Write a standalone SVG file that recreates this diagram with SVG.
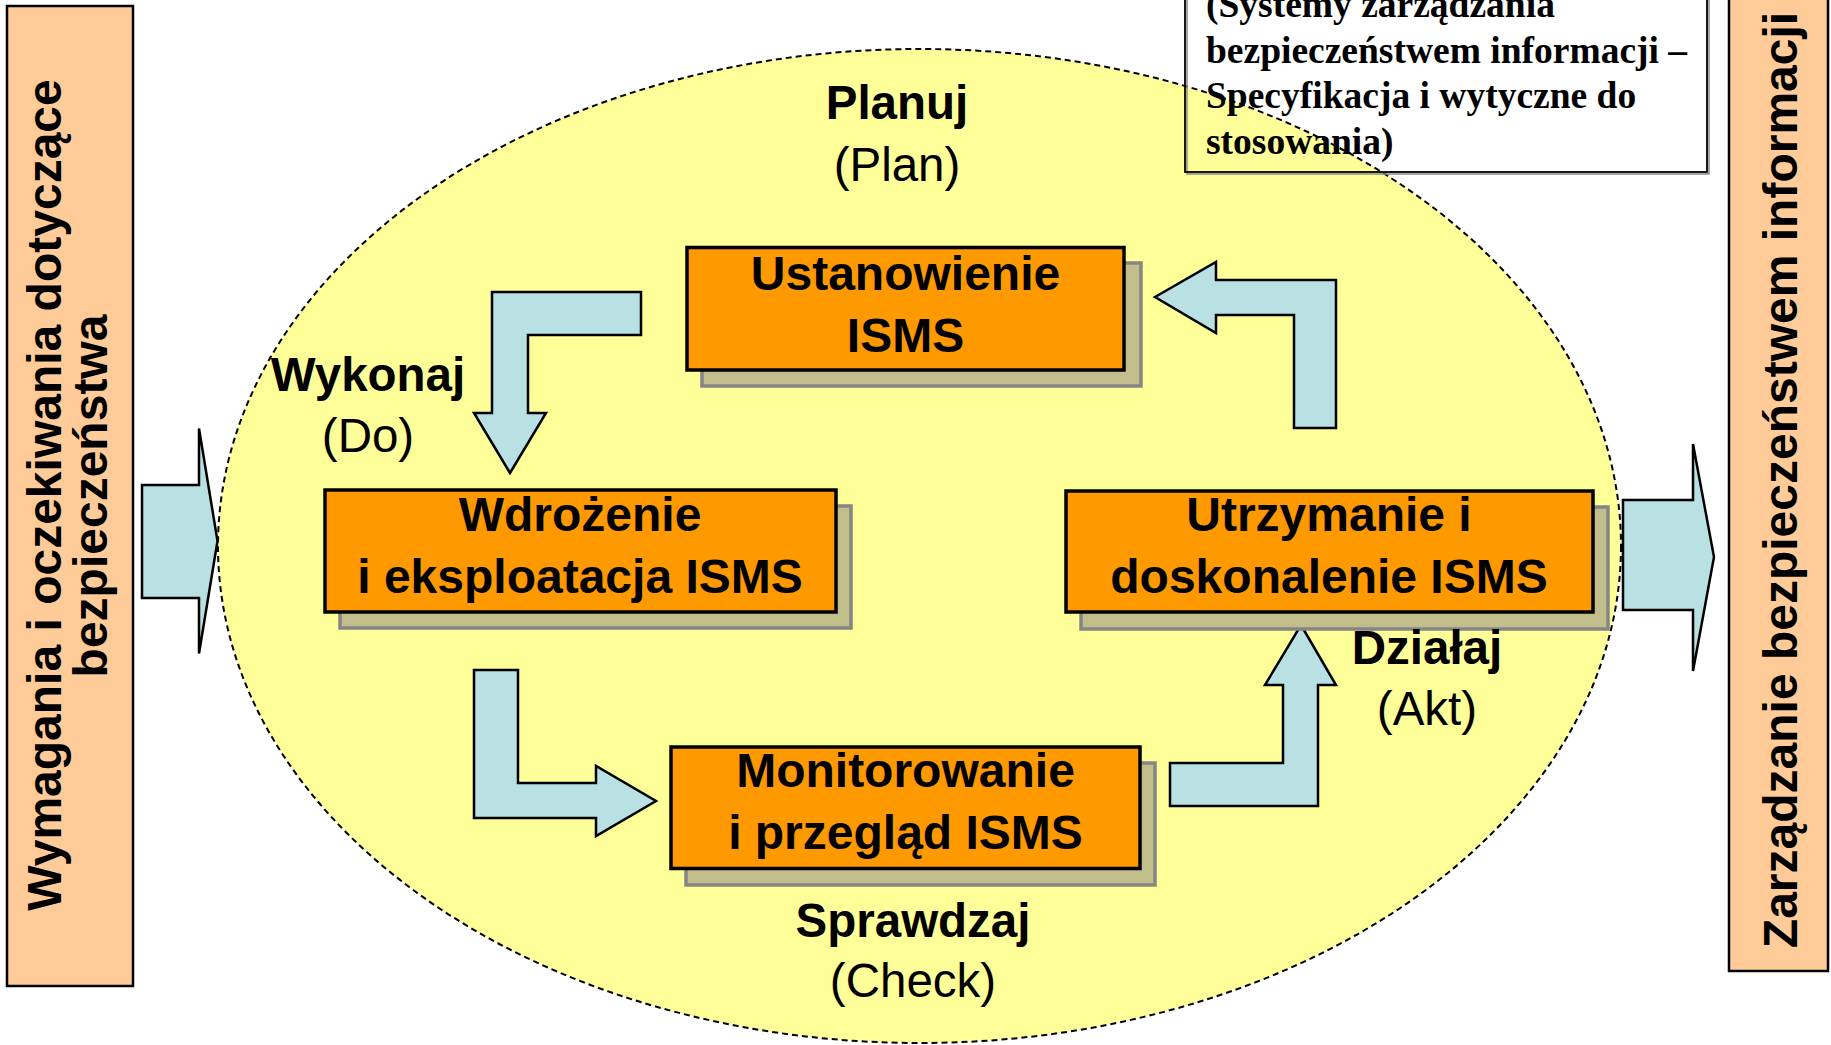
<svg xmlns="http://www.w3.org/2000/svg" width="1831" height="1045" viewBox="0 0 1831 1045">
<style>
.sans{font-family:"Liberation Sans",Arial,sans-serif;}
.b{font-weight:bold;}
.box{fill:#FF9900;stroke:#000;stroke-width:3.5;}
.shadow{fill:#C1BE8B;stroke:#858585;stroke-width:3.5;}
.arrow{fill:#B9E0E3;stroke:#000;stroke-width:2.5;stroke-linejoin:miter;}
.side{fill:#FFCC99;stroke:#000;stroke-width:2.5;}
.lbl{font-size:47.5px;text-anchor:middle;fill:#000;}
.bt{font-size:48px;text-anchor:middle;fill:#000;}
.side-t{font-size:48px;text-anchor:middle;fill:#000;}
.note{font-family:"Liberation Serif","Times New Roman",serif;font-weight:bold;font-size:37.5px;fill:#000;}
</style>
<rect width="1831" height="1045" fill="#fff"/>

<g id="cycle-ellipse">
<ellipse cx="919.5" cy="546" rx="701.5" ry="497" fill="#FFFF99" stroke="#000" stroke-width="2" stroke-dasharray="6 4"/>
</g>

<g id="note">
<rect x="1187" y="-4" width="522" height="178" fill="none" stroke="#8a8a8a" stroke-width="1.5"/>
<rect x="1185" y="-6" width="522" height="178" fill="none" stroke="#000" stroke-width="1.8"/>
<text class="note" x="1206" y="17">(Systemy zarządzania</text>
<text class="note" x="1206" y="62.5">bezpieczeństwem informacji –</text>
<text class="note" x="1206" y="108">Specyfikacja i wytyczne do</text>
<text class="note" x="1206" y="153.5">stosowania)</text>
</g>

<g id="input-box">
<rect class="side" x="7" y="6" width="126" height="980"/>
<g class="sans b side-t">
<text transform="translate(61,495) rotate(-90)">Wymagania i oczekiwania dotyczące</text>
<text transform="translate(107,496) rotate(-90)">bezpieczeństwa</text>
</g>
</g>

<g id="output-box">
<rect class="side" x="1729" y="-4" width="99" height="975"/>
<text class="sans b side-t" transform="translate(1797,480) rotate(-90)">Zarządzanie bezpieczeństwem informacji</text>
</g>

<g id="connectors">
<polygon class="arrow" points="142,485 199,485 199,428.5 217.5,541 199,653.5 199,598 142,598"/>
<polygon class="arrow" points="1623,500 1693,500 1693,444 1714,557 1693,671 1693,610 1623,610"/>
<polygon class="arrow" points="492,292 641,292 641,335 528,335 528,413 546,413 510,473 474,413 492,413"/>
<polygon class="arrow" points="474,670 518,670 518,783 596,783 596,766 656,801 596,836 596,818 474,818"/>
<polygon class="arrow" points="1301,625 1336,685 1318,685 1318,806 1170,806 1170,763 1283,763 1283,685 1265,685"/>
<polygon class="arrow" points="1155,297 1216,262 1216,280 1336,280 1336,428 1294,428 1294,315 1216,315 1216,333"/>
</g>

<g id="plan">
<rect class="shadow" x="702" y="263" width="439" height="123"/>
<rect class="box" x="687" y="247.5" width="437" height="122.5"/>
<text class="sans b bt" x="905.5" y="290">Ustanowienie</text>
<text class="sans b bt" x="905.5" y="352">ISMS</text>
</g>

<g id="do">
<rect class="shadow" x="340" y="506" width="511" height="122"/>
<rect class="box" x="325" y="490" width="511" height="122"/>
<text class="sans b bt" x="580" y="531">Wdrożenie</text>
<text class="sans b bt" x="580" y="593">i eksploatacja ISMS</text>
</g>

<g id="check">
<rect class="shadow" x="686" y="763" width="469" height="122"/>
<rect class="box" x="671" y="747" width="469" height="121.5"/>
<text class="sans b bt" x="905.5" y="787">Monitorowanie</text>
<text class="sans b bt" x="905.5" y="848.5">i przegląd ISMS</text>
</g>

<g id="act">
<rect class="shadow" x="1081" y="507" width="527" height="122"/>
<rect class="box" x="1066" y="491" width="527" height="121"/>
<text class="sans b bt" x="1329" y="531">Utrzymanie i</text>
<text class="sans b bt" x="1329" y="593">doskonalenie ISMS</text>
</g>

<g id="phase-labels" class="sans">
<text class="b lbl" x="897" y="119">Planuj</text>
<text class="lbl" x="897" y="181">(Plan)</text>
<text class="b lbl" x="368" y="391">Wykonaj</text>
<text class="lbl" x="368" y="452">(Do)</text>
<text class="b lbl" x="1427" y="664">Działaj</text>
<text class="lbl" x="1427" y="725">(Akt)</text>
<text class="b lbl" x="913" y="936.5">Sprawdzaj</text>
<text class="lbl" x="913" y="997">(Check)</text>
</g>
</svg>
